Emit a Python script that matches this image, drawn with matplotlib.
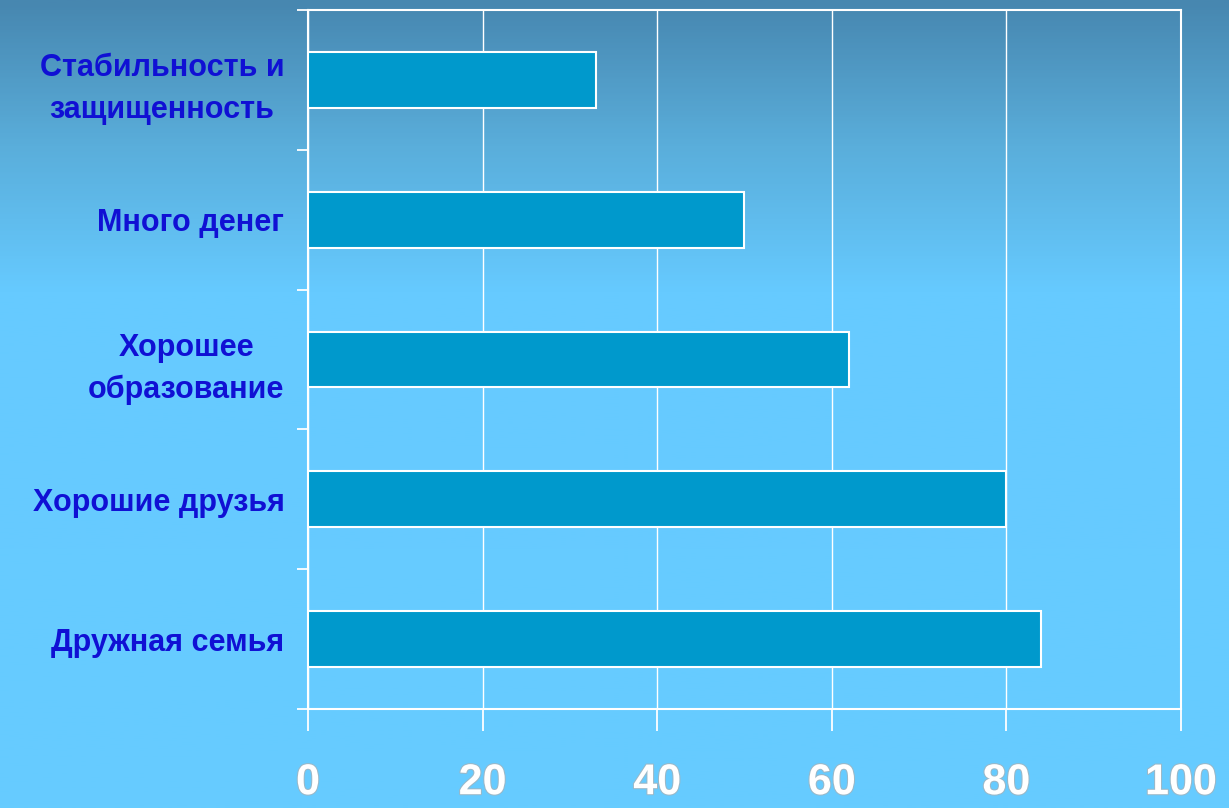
import numpy as np
import matplotlib.pyplot as plt
import matplotlib.patheffects as pe
from matplotlib.colors import LinearSegmentedColormap

# data
categories = ['Дружная семья', 'Хорошие друзья', 'Хорошее\nобразование',
              'Много денег', 'Стабильность и\nзащищенность']
values = [84, 80, 62, 50, 33]
x_ticks = [0, 20, 40, 60, 80, 100]

plt.rcParams['font.family'] = ['Liberation Sans', 'DejaVu Sans']

fig = plt.figure(figsize=(12.29, 8.08), dpi=100)

# background gradient
bg = fig.add_axes([0, 0, 1, 1], zorder=-10)
cmap = LinearSegmentedColormap.from_list(
    'bg', [(0.0, '#4787b0'), (0.18, '#5aaedb'), (0.36, '#66caff'), (1.0, '#66ccff')])
grad = np.linspace(0, 1, 400).reshape(-1, 1)
bg.imshow(grad, aspect='auto', cmap=cmap, extent=[0, 1, 0, 1], origin='upper')
bg.set_axis_off()

ax = fig.add_axes([0.2506, 0.1225, 0.7103, 0.8651])
ax.patch.set_alpha(0)

y = np.arange(len(categories))
ax.barh(y, values, height=0.4, color='#0099cc', edgecolor='white', linewidth=1.5, zorder=3)

ax.set_xlim(0, 100)
ax.set_ylim(-0.5, len(categories) - 0.5)
ax.set_xticks(x_ticks)
ax.grid(axis='x', color='white', linewidth=1.0, zorder=0)
for s in ax.spines.values():
    s.set_color('white')
    s.set_linewidth(1.5)

ax.set_xticklabels([str(t) for t in x_ticks], fontsize=31, fontweight='bold', color='white',
                   path_effects=[pe.withStroke(linewidth=1.5, foreground='#9ab8c8')])
ax.tick_params(axis='x', length=16, width=1.3, color='white', pad=23, direction='out')

ax.set_yticks(y)
ax.set_yticklabels(categories, fontsize=22, fontweight='bold', color='#1010d4',
                   multialignment='center', linespacing=1.5)
ax.tick_params(axis='y', length=0, pad=17)
ax.set_yticks(np.arange(-0.5, len(categories), 1), minor=True)
ax.tick_params(axis='y', which='minor', length=8, width=1.3, color='white', direction='out')

fig.savefig('out.png', dpi=100)
